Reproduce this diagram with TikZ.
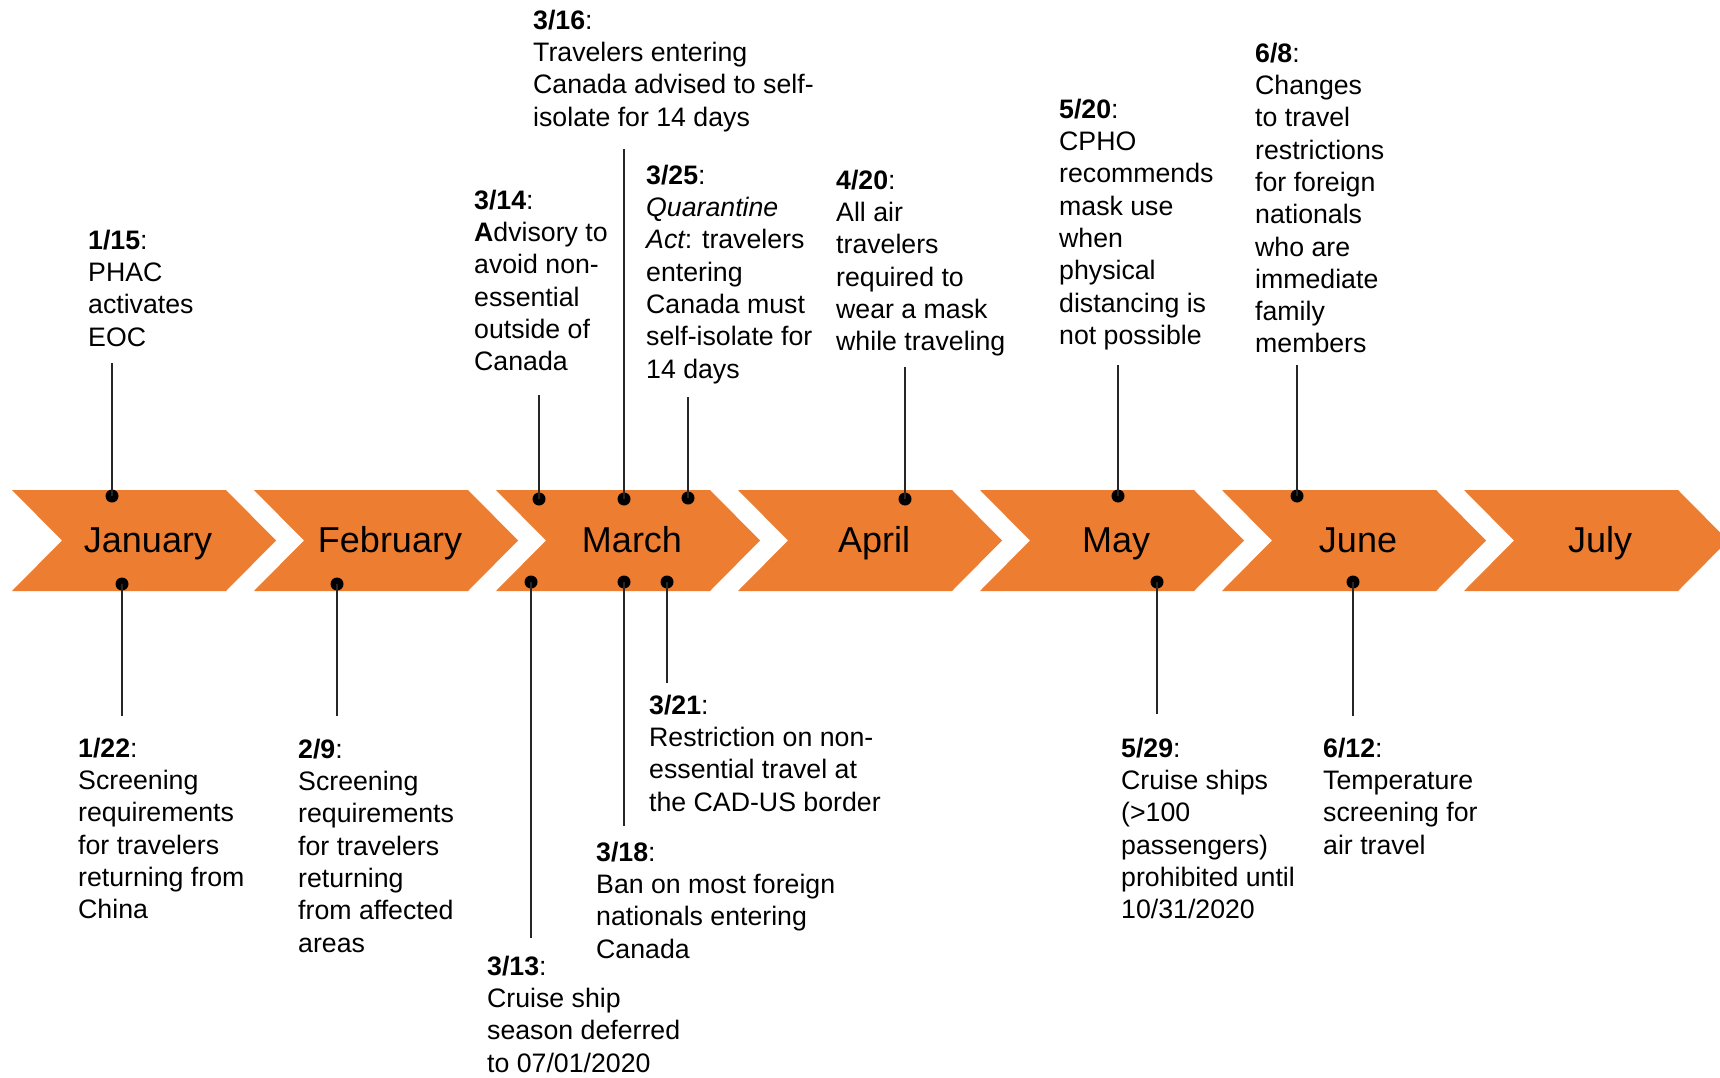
\documentclass[tikz,border=0pt]{standalone}
\usepackage{fontspec}
\setmainfont{Liberation Sans}
\definecolor{chevorange}{HTML}{ED7D31}
\definecolor{stemgray}{HTML}{262626}
\begin{document}
\begin{tikzpicture}[x=1pt,y=-1pt,
  chev/.style={fill=chevorange,draw=none},
  month/.style={font=\fontsize{36}{43}\selectfont,anchor=base,text=black,inner sep=0pt},
  note/.style={font=\fontsize{26.7}{32.3}\selectfont,align=left,anchor=north west,inner sep=0pt,text=black},
  dot/.style={circle,fill=black,inner sep=0pt,minimum size=13pt},
  stem/.style={line width=1.5pt,draw=stemgray}]
\clip (0,0) rectangle (1720,1078);
\fill[white] (0,0) rectangle (1720,1078);
% chevrons
\foreach \m [count=\i from 0] in {January,February,March,April,May,June,July}{
  \pgfmathsetmacro\L{12+242*\i}
  \fill[chev] (\L,490) -- (\L+214,490) -- (\L+264,540.5) -- (\L+214,591) -- (\L,591) -- (\L+50,540.5) -- cycle;
  \node[month] (m\i) at (\L+136,552) {\m};
}
% top annotations
\node[note] (n115) at (88,226.4) {\strut\textbf{1/15}:\\PHAC\\activates\\EOC};
\node[note] (n314) at (474,186.4) {\strut\textbf{3/14}:\\\textbf{A}dvisory to\\avoid non-\\essential\\outside of\\Canada};
\node[note] (n316) at (533,6.4) {\strut\textbf{3/16}:\\Travelers entering\\Canada advised to self-\\isolate for 14 days};
\node[note] (n325) at (646,161.4) {\strut\textbf{3/25}:\\{\itshape Quarantine}\\{\itshape Act}: travelers\\entering\\Canada must\\self-isolate for\\14 days};
\node[note] (n420) at (836,166.4) {\strut\textbf{4/20}:\\All air\\travelers\\required to\\wear a mask\\while traveling};
\node[note] (n520) at (1059,95.4) {\strut\textbf{5/20}:\\CPHO\\recommends\\mask use\\when\\physical\\distancing is\\not possible};
\node[note] (n608) at (1255,39.4) {\strut\textbf{6/8}:\\Changes\\to travel\\restrictions\\for foreign\\nationals\\who are\\immediate\\family\\members};
% bottom annotations
\node[note] (n122) at (78,734.4) {\strut\textbf{1/22}:\\Screening\\requirements\\for travelers\\returning from\\China};
\node[note] (n209) at (298,735.4) {\strut\textbf{2/9}:\\Screening\\requirements\\for travelers\\returning\\from affected\\areas};
\node[note] (n313) at (487,952.4) {\strut\textbf{3/13}:\\Cruise ship\\season deferred\\to 07/01/2020};
\node[note] (n318) at (596,838.4) {\strut\textbf{3/18}:\\Ban on most foreign\\nationals entering\\Canada};
\node[note] (n321) at (649,691.4) {\strut\textbf{3/21}:\\Restriction on non-\\essential travel at\\the CAD-US border};
\node[note] (n529) at (1121,734.4) {\strut\textbf{5/29}:\\Cruise ships\\(>100\\passengers)\\prohibited until\\10/31/2020};
\node[note] (n612) at (1323,734.4) {\strut\textbf{6/12}:\\Temperature\\screening for\\air travel};
% stem ends
\coordinate (e115) at (112,363);
\coordinate (e314) at (539,395);
\coordinate (e316) at (624,149);
\coordinate (e325) at (688,397);
\coordinate (e420) at (905,367);
\coordinate (e520) at (1118,365);
\coordinate (e608) at (1297,365);
\coordinate (e122) at (122,716);
\coordinate (e209) at (337,716);
\coordinate (e313) at (531,938);
\coordinate (e318) at (624,826);
\coordinate (e321) at (667,683);
\coordinate (e529) at (1157,714);
\coordinate (e612) at (1353,716);
% dots
\node[dot] (d115) at (112,496) {};
\node[dot] (d314) at (539,499) {};
\node[dot] (d316) at (624,499) {};
\node[dot] (d325) at (688,498) {};
\node[dot] (d420) at (905,499) {};
\node[dot] (d520) at (1118,496) {};
\node[dot] (d608) at (1297,496) {};
\node[dot] (d122) at (122,584) {};
\node[dot] (d209) at (337,584) {};
\node[dot] (d313) at (531,582) {};
\node[dot] (d318) at (624,582) {};
\node[dot] (d321) at (667,582) {};
\node[dot] (d529) at (1157,582) {};
\node[dot] (d612) at (1353,582) {};
% stems
\foreach \k in {115,314,316,325,420,520,608,122,209,313,318,321,529,612}{
  \draw[stem] (e\k) -- (d\k.center);
}
\end{tikzpicture}
\end{document}
